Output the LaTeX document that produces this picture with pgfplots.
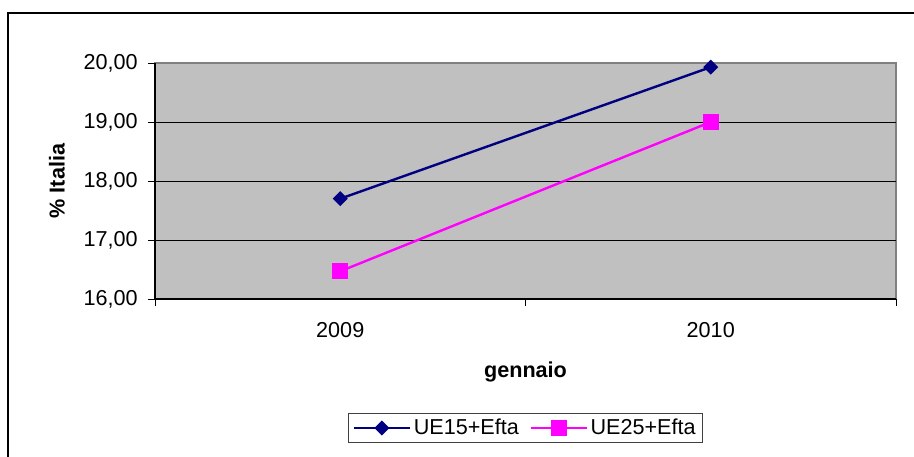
\documentclass[border=0pt]{standalone}
\usepackage{fontspec}
\setmainfont{Liberation Sans}
\usepackage{pgfplots}
\pgfplotsset{compat=1.18}
\definecolor{bggray}{HTML}{C0C0C0}
\definecolor{bordergray}{HTML}{808080}
\definecolor{navyc}{HTML}{000080}
\definecolor{magc}{HTML}{FF00FF}
\newcommand{\f}{\fontsize{16.2}{19.4}\selectfont}
\begin{document}
\begin{tikzpicture}
\useasboundingbox (0,0) rectangle (685.5pt,342.75pt);
\draw[line width=1.2pt] (6pt,0pt) -- (6pt,333pt) -- (685.5pt,333pt);
\begin{axis}[
  at={(116.25pt,118.5pt)}, anchor=south west,
  scale only axis, width=555.75pt, height=177pt,
  xmin=0, xmax=2, ymin=16, ymax=20,
  clip=false,
  axis x line*=bottom, axis y line*=left,
  x axis line style={-, black, line width=1pt},
  y axis line style={-, black, line width=1pt},
  axis background/.style={fill=bggray, draw=bordergray, line width=1.5pt},
  tick align=outside,
  major tick length=5.25pt,
  tick style={black, line width=0.75pt},
  ytick={16,17,18,19},
  extra y ticks={20},
  extra y tick style={grid=none},
  ymajorgrids,
  major grid style={black, line width=0.75pt},
  /pgf/number format/fixed,
  /pgf/number format/fixed zerofill,
  /pgf/number format/precision=2,
  /pgf/number format/use comma,
  /pgf/number format/assume math mode=true,
  xtick={0,1,2},
  xticklabels={,,},
  extra x ticks={0.5,1.5},
  extra x tick labels={2009,2010},
  extra x tick style={major tick length=0pt},
  tick label style={font=\f},
  yticklabel style={anchor=east, inner sep=0pt, xshift=-7.5pt},
  xticklabel style={anchor=center, yshift=-23.25pt},
  xlabel={gennaio},
  ylabel={\% Italia},
  xlabel style={at={(axis description cs:0.5,-0.309)}, anchor=center, font=\f\bfseries},
  ylabel style={at={(axis description cs:-0.1323,0.5)}, anchor=center, font=\f\bfseries},
  legend columns=2,
  legend style={at={(axis description cs:0.5,-0.5466)}, anchor=center,
    draw=black!75, line width=0.75pt, font=\f, inner xsep=3pt,
    /tikz/every even column/.append style={column sep=6pt}},
  legend image code/.code={\draw[mark repeat=2, mark phase=2] plot coordinates {(0pt,0pt) (21pt,0pt) (42pt,0pt)};},
]
\addplot[navyc, line width=1.8pt, mark=square*, mark size=3.4pt, mark options={rotate=45, solid, fill=navyc, line width=1.2pt}] coordinates {(0.5,17.70) (1.5,19.93)};
\addlegendentry{UE15+Efta}
\addplot[magc, line width=1.8pt, mark=square*, mark size=5.3pt, mark options={solid, fill=magc, line width=1.2pt}] coordinates {(0.5,16.47) (1.5,19.00)};
\addlegendentry{UE25+Efta}
\end{axis}
\end{tikzpicture}
\end{document}
